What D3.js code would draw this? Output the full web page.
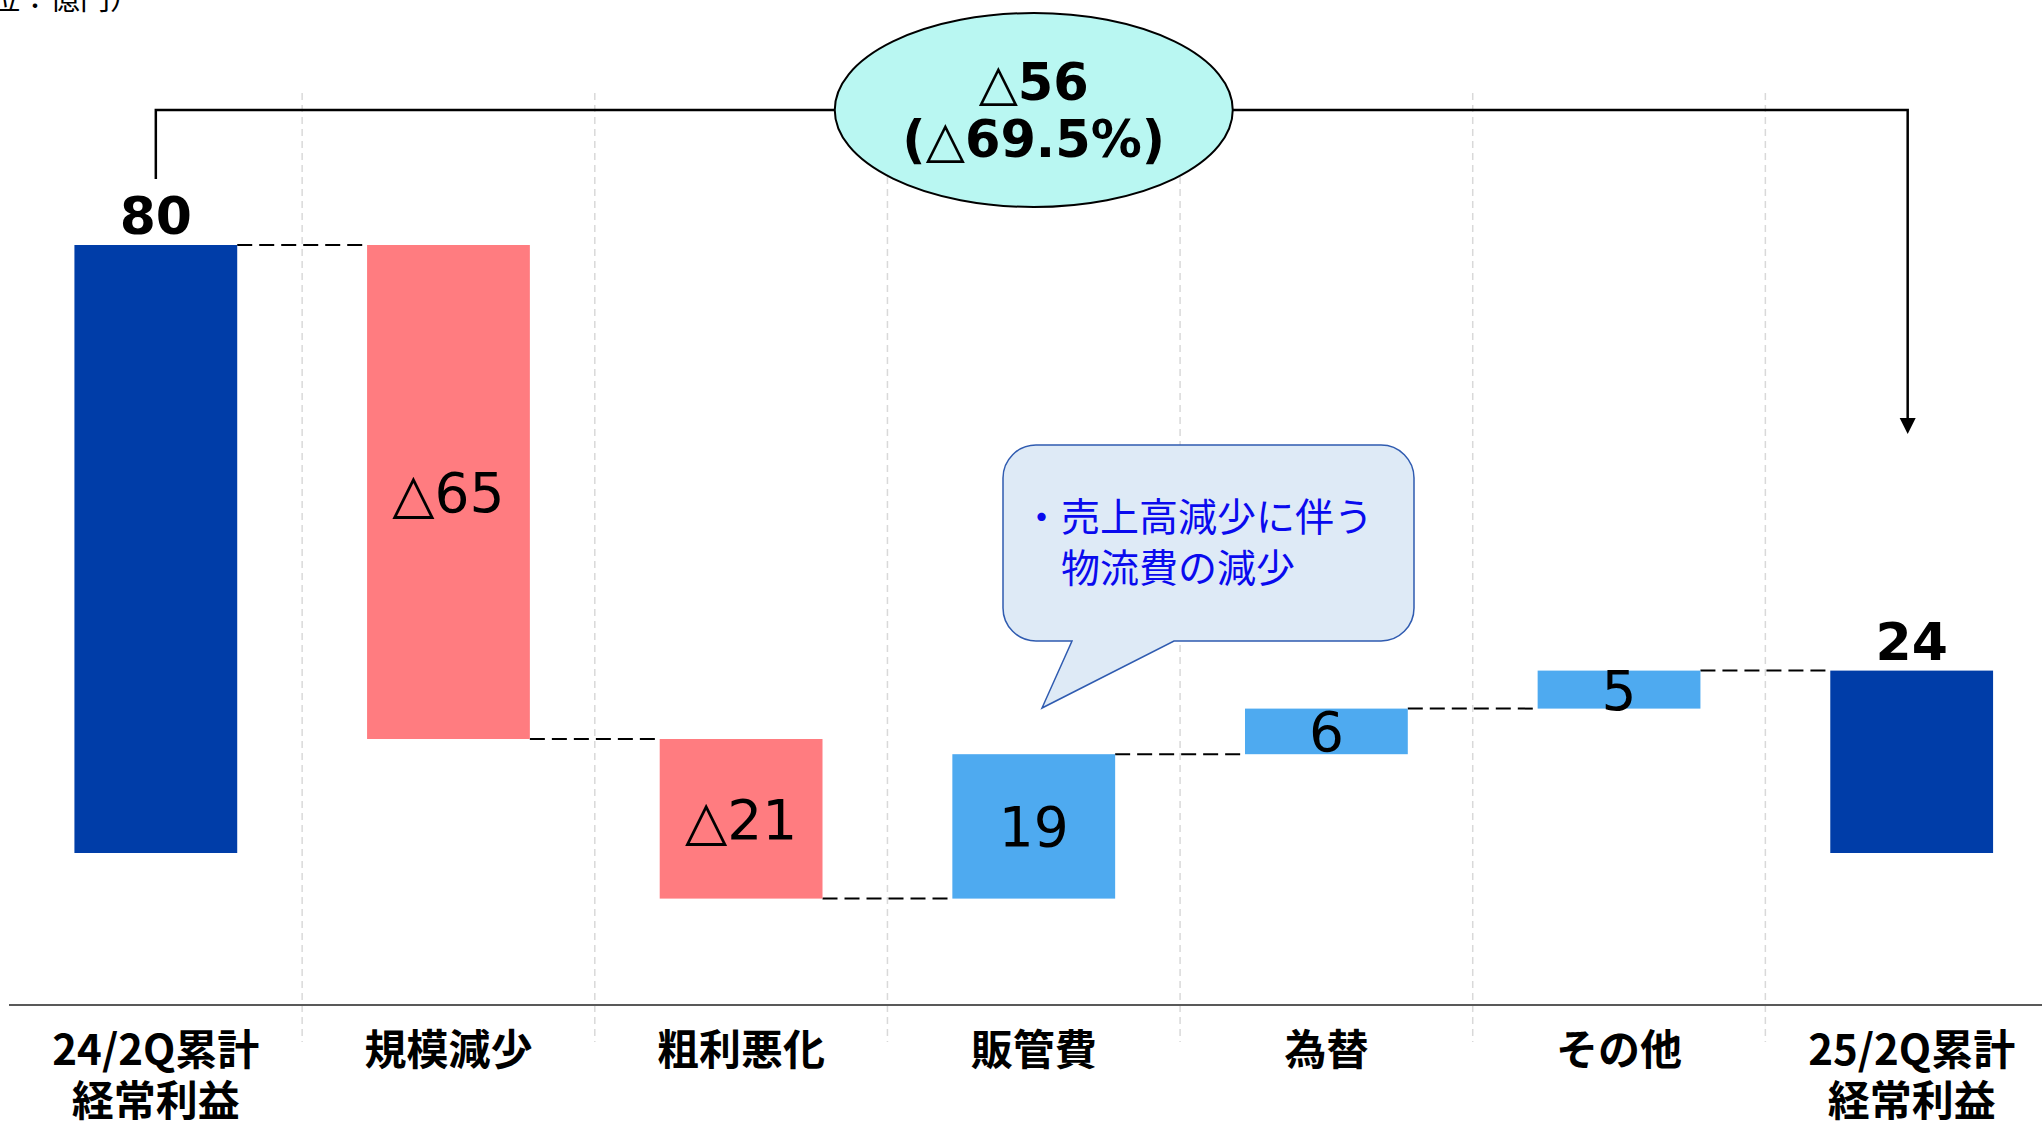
<!DOCTYPE html>
<html lang="ja">
<head>
<meta charset="utf-8">
<title>経常利益 増減要因</title>
<script src="https://cdn.jsdelivr.net/npm/d3@7"></script>
<style>
  html, body { margin: 0; padding: 0; background: #ffffff; }
  svg { display: block; }
</style>
</head>
<body>
<svg id="chart" width="2042" height="1121"></svg>
<script>
// ---- data ----
const categories = ["24/2Q累計\n経常利益", "規模減少", "粗利悪化", "販管費", "為替", "その他", "25/2Q累計\n経常利益"];
const values     = [80, -65, -21, 19, 6, 5, 24];
const barTypes   = ["total", "delta", "delta", "delta", "delta", "delta", "total"];
const summaryLines = ["△56", "(△69.5%)"];
const calloutLines = ["・売上高減少に伴う", "物流費の減少"];
const unitLabel = "（単位：億円）";
const yDomain = [-20, 100];

// ---- layout ----
const W = 2042, H = 1121;
const svg = d3.select("#chart");
const NUM_FONT = "'DejaVu Sans', Verdana, sans-serif";
const JP_FONT = "'Noto Sans CJK JP', 'Noto Sans', sans-serif";

const x = d3.scaleBand()
  .domain(categories)
  .range([9.5, 2058])
  .paddingInner(0.4437)
  .paddingOuter(0.4437 / 2);

const y = d3.scaleLinear().domain(yDomain).range([1005, 93]);

// waterfall segments
let running = 0;
const bars = categories.map((c, i) => {
  let lo, hi, end;
  if (barTypes[i] === "total") {
    lo = 0; hi = values[i]; end = values[i];
  } else {
    const start = running;
    end = running + values[i];
    lo = Math.min(start, end); hi = Math.max(start, end);
  }
  running = end;
  return { cat: c, value: values[i], type: barTypes[i], lo, hi, end };
});

const colorOf = d => d.type === "total" ? "#003DA8" : (d.value < 0 ? "#FF7C80" : "#4EAAF0");
const fmt = v => v < 0 ? "△" + Math.abs(v) : String(v);

// vertical separators between categories
const step = x.step();
const separators = d3.range(1, categories.length).map(k => x.range()[0] + k * step);
svg.append("g").selectAll("line").data(separators).join("line")
  .attr("x1", d => d).attr("x2", d => d)
  .attr("y1", y(yDomain[1])).attr("y2", 1042)
  .attr("stroke", "#D9D9D9").attr("stroke-width", 1.5)
  .attr("stroke-dasharray", "7,5");

// category axis line
svg.append("line")
  .attr("x1", 9).attr("x2", W)
  .attr("y1", y(yDomain[0])).attr("y2", y(yDomain[0]))
  .attr("stroke", "#595959").attr("stroke-width", 2);

// connectors between consecutive bars
const connectors = bars.slice(0, -1).map((d, i) => ({
  x1: x(d.cat) + x.bandwidth(),
  x2: x(bars[i + 1].cat),
  v: d.end
}));
svg.append("g").selectAll("line").data(connectors).join("line")
  .attr("x1", d => d.x1).attr("x2", d => d.x2)
  .attr("y1", d => y(d.v)).attr("y2", d => y(d.v))
  .attr("stroke", "#000").attr("stroke-width", 2)
  .attr("stroke-dasharray", "15,7");

// bars
svg.append("g").selectAll("rect").data(bars).join("rect")
  .attr("x", d => x(d.cat))
  .attr("width", x.bandwidth())
  .attr("y", d => y(d.hi))
  .attr("height", d => y(d.lo) - y(d.hi))
  .attr("fill", colorOf);

// value labels
const cx = d => x(d.cat) + x.bandwidth() / 2;
svg.append("g").selectAll("text").data(bars).join("text")
  .attr("x", cx)
  .attr("y", d => d.type === "total"
    ? y(d.hi) - 11
    : (y(d.hi) + y(d.lo)) / 2 + 0.365 * 55)
  .attr("text-anchor", "middle")
  .attr("font-family", NUM_FONT)
  .attr("font-weight", d => d.type === "total" ? "bold" : "normal")
  .attr("font-size", d => d.type === "total" ? 52 : 55)
  .attr("fill", "#000")
  .text(d => fmt(d.value));

// category labels
const catG = svg.append("g");
categories.forEach(c => {
  const lines = c.split("\n");
  lines.forEach((ln, j) => {
    catG.append("text")
      .attr("x", x(c) + x.bandwidth() / 2)
      .attr("y", 1065 + j * 51)
      .attr("text-anchor", "middle")
      .attr("font-family", JP_FONT)
      .attr("font-weight", "bold")
      .attr("font-size", 42)
      .attr("fill", "#000")
      .text(ln);
  });
});

// unit label
svg.append("text")
  .attr("x", 140).attr("y", 9)
  .attr("text-anchor", "end")
  .attr("font-family", JP_FONT)
  .attr("font-size", 30)
  .attr("fill", "#000")
  .text(unitLabel);

// overall change bracket with arrow
const first = bars[0], last = bars[bars.length - 1];
const bracketY = 110;
const arrowTip = 434;
const arrowX = cx(last) - 4;
svg.append("path")
  .attr("d", `M${cx(first)},${y(first.hi) - 66} V${bracketY} H${arrowX} V${arrowTip - 14}`)
  .attr("fill", "none").attr("stroke", "#000").attr("stroke-width", 2.5);
svg.append("path")
  .attr("d", `M${arrowX - 8},${arrowTip - 16} L${arrowX + 8},${arrowTip - 16} L${arrowX},${arrowTip} Z`)
  .attr("fill", "#000");

// summary ellipse
const ex = cx(bars[3]);
svg.append("ellipse")
  .attr("cx", ex).attr("cy", bracketY)
  .attr("rx", 199).attr("ry", 97)
  .attr("fill", "#B9F7F2").attr("stroke", "#000").attr("stroke-width", 2);
svg.append("g").selectAll("text").data(summaryLines).join("text")
  .attr("x", ex)
  .attr("y", (d, i) => 100 + i * 57)
  .attr("text-anchor", "middle")
  .attr("font-family", NUM_FONT)
  .attr("font-weight", "bold")
  .attr("font-size", 51)
  .attr("fill", "#000")
  .text(d => d);

// speech callout
const cb = { x0: 1003, x1: 1414, y0: 445, y1: 641, r: 33 };
const tail = { a: 1072, b: 1174, tx: 1042, ty: 708 };
const calloutPath = [
  `M${cb.x0 + cb.r},${cb.y0}`,
  `H${cb.x1 - cb.r}`,
  `A${cb.r},${cb.r} 0 0 1 ${cb.x1},${cb.y0 + cb.r}`,
  `V${cb.y1 - cb.r}`,
  `A${cb.r},${cb.r} 0 0 1 ${cb.x1 - cb.r},${cb.y1}`,
  `H${tail.b}`,
  `L${tail.tx},${tail.ty}`,
  `L${tail.a},${cb.y1}`,
  `H${cb.x0 + cb.r}`,
  `A${cb.r},${cb.r} 0 0 1 ${cb.x0},${cb.y1 - cb.r}`,
  `V${cb.y0 + cb.r}`,
  `A${cb.r},${cb.r} 0 0 1 ${cb.x0 + cb.r},${cb.y0}`,
  "Z"
].join(" ");
svg.append("path")
  .attr("d", calloutPath)
  .attr("fill", "#DEEAF6").attr("stroke", "#2F5BB0").attr("stroke-width", 1.5);
svg.append("g").selectAll("text").data(calloutLines).join("text")
  .attr("x", (d, i) => i === 0 ? 1022 : 1061)
  .attr("y", (d, i) => 531 + i * 51)
  .attr("font-family", JP_FONT)
  .attr("font-size", 39)
  .attr("fill", "#0A0AEE")
  .text(d => d);
</script>
</body>
</html>
